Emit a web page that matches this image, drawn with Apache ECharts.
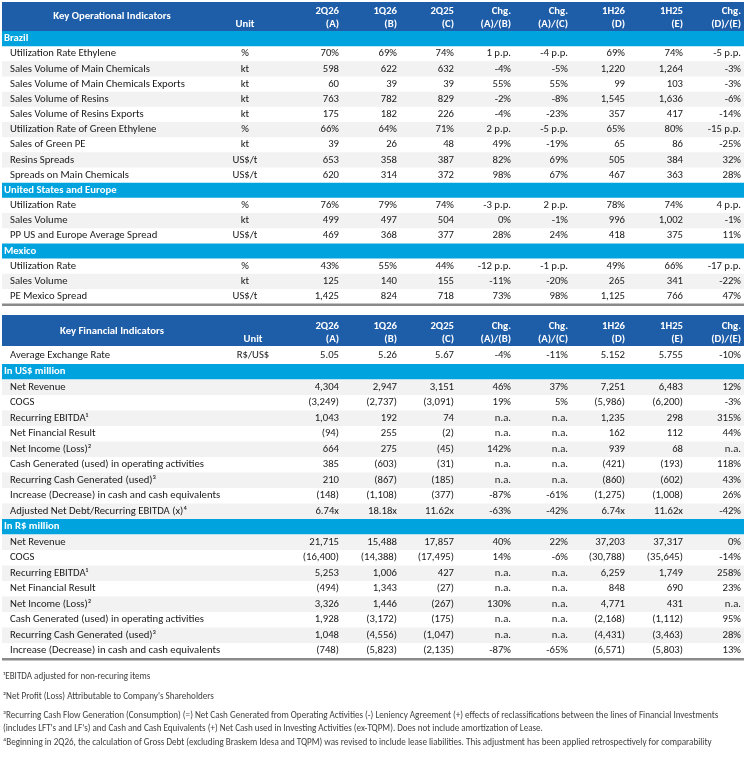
<!DOCTYPE html>
<html><head><meta charset="utf-8">
<script src="https://cdn.jsdelivr.net/npm/echarts@6/dist/echarts.min.js"></script>
<style>html,body{margin:0;padding:0;background:#fff}#c{width:751px;height:758px}</style>
</head><body><div id="c"></div>
<script>
// ---------------- DATA ----------------
const headTop = ['2Q26','1Q26','2Q25','Chg.','Chg.','1H26','1H25','Chg.'];
const headBottom = ['(A)','(B)','(C)','(A)/(B)','(A)/(C)','(D)','(E)','(D)/(E)'];

const opTitle = 'Key Operational Indicators';
const finTitle = 'Key Financial Indicators';
const unitHeader = 'Unit';

const brazilLabels = ['Utilization Rate Ethylene','Sales Volume of Main Chemicals','Sales Volume of Main Chemicals Exports','Sales Volume of Resins','Sales Volume of Resins Exports','Utilization Rate of Green Ethylene','Sales of Green PE','Resins Spreads','Spreads on Main Chemicals'];
const brazilUnits = ['%','kt','kt','kt','kt','%','kt','US$/t','US$/t'];
const brazilValues = [
  ['70%','69%','74%','1 p.p.','-4 p.p.','69%','74%','-5 p.p.'],
  ['598','622','632','-4%','-5%','1,220','1,264','-3%'],
  ['60','39','39','55%','55%','99','103','-3%'],
  ['763','782','829','-2%','-8%','1,545','1,636','-6%'],
  ['175','182','226','-4%','-23%','357','417','-14%'],
  ['66%','64%','71%','2 p.p.','-5 p.p.','65%','80%','-15 p.p.'],
  ['39','26','48','49%','-19%','65','86','-25%'],
  ['653','358','387','82%','69%','505','384','32%'],
  ['620','314','372','98%','67%','467','363','28%']
];

const usEuLabels = ['Utilization Rate','Sales Volume','PP US and Europe Average Spread'];
const usEuUnits = ['%','kt','US$/t'];
const usEuValues = [
  ['76%','79%','74%','-3 p.p.','2 p.p.','78%','74%','4 p.p.'],
  ['499','497','504','0%','-1%','996','1,002','-1%'],
  ['469','368','377','28%','24%','418','375','11%']
];

const mexicoLabels = ['Utilization Rate','Sales Volume','PE Mexico Spread'];
const mexicoUnits = ['%','kt','US$/t'];
const mexicoValues = [
  ['43%','55%','44%','-12 p.p.','-1 p.p.','49%','66%','-17 p.p.'],
  ['125','140','155','-11%','-20%','265','341','-22%'],
  ['1,425','824','718','73%','98%','1,125','766','47%']
];

const fxLabels = ['Average Exchange Rate'];
const fxUnits = ['R$/US$'];
const fxValues = [['5.05','5.26','5.67','-4%','-11%','5.152','5.755','-10%']];

const usdLabels = ['Net Revenue','COGS','Recurring EBITDA¹','Net Financial Result','Net Income (Loss)²','Cash Generated (used) in operating activities','Recurring Cash Generated (used)³','Increase (Decrease) in cash and cash equivalents','Adjusted Net Debt/Recurring EBITDA (x)⁴'];
const usdValues = [
  ['4,304','2,947','3,151','46%','37%','7,251','6,483','12%'],
  ['(3,249)','(2,737)','(3,091)','19%','5%','(5,986)','(6,200)','-3%'],
  ['1,043','192','74','n.a.','n.a.','1,235','298','315%'],
  ['(94)','255','(2)','n.a.','n.a.','162','112','44%'],
  ['664','275','(45)','142%','n.a.','939','68','n.a.'],
  ['385','(603)','(31)','n.a.','n.a.','(421)','(193)','118%'],
  ['210','(867)','(185)','n.a.','n.a.','(860)','(602)','43%'],
  ['(148)','(1,108)','(377)','-87%','-61%','(1,275)','(1,008)','26%'],
  ['6.74x','18.18x','11.62x','-63%','-42%','6.74x','11.62x','-42%']
];

const brlLabels = ['Net Revenue','COGS','Recurring EBITDA¹','Net Financial Result','Net Income (Loss)²','Cash Generated (used) in operating activities','Recurring Cash Generated (used)³','Increase (Decrease) in cash and cash equivalents'];
const brlValues = [
  ['21,715','15,488','17,857','40%','22%','37,203','37,317','0%'],
  ['(16,400)','(14,388)','(17,495)','14%','-6%','(30,788)','(35,645)','-14%'],
  ['5,253','1,006','427','n.a.','n.a.','6,259','1,749','258%'],
  ['(494)','1,343','(27)','n.a.','n.a.','848','690','23%'],
  ['3,326','1,446','(267)','130%','n.a.','4,771','431','n.a.'],
  ['1,928','(3,172)','(175)','n.a.','n.a.','(2,168)','(1,112)','95%'],
  ['1,048','(4,556)','(1,047)','n.a.','n.a.','(4,431)','(3,463)','28%'],
  ['(748)','(5,823)','(2,135)','-87%','-65%','(6,571)','(5,803)','13%']
];

const sectionNames = ['Brazil','United States and Europe','Mexico','In US$ million','In R$ million'];

const footnotes = [
  '¹EBITDA adjusted for non-recuring items',
  '²Net Profit (Loss) Attributable to Company\'s Shareholders',
  '³Recurring Cash Flow Generation (Consumption) (=) Net Cash Generated from Operating Activities (-) Leniency Agreement (+) effects of reclassifications between the lines of Financial Investments',
  '(includes LFT\'s and LF\'s) and Cash and Cash Equivalents (+) Net Cash used in Investing Activities (ex-TQPM). Does not include amortization of Lease.',
  '⁴Beginning in 2Q26, the calculation of Gross Debt (excluding Braskem Idesa and TQPM) was revised to include lease liabilities. This adjustment has been applied retrospectively for comparability'
];

// ---------------- STYLE / LAYOUT ----------------
const C = { dark:'#1E5DA8', light:'#00A3DE', gray:'#F2F2F2', text:'#1A1A1A', rule:'#8A8A8A', note:'#404040' };
const L = { left:2, right:744, labelX:10, sectionX:4, titleX:112,
  cols:[339,397,454,511,568,625,683,741], unitOp:245, unitFin:253 };

function hasFont(f){
  const c=document.createElement('canvas').getContext('2d');
  const s='abcdefghijklmnopqrstuvwxyzABCDEFGHIJ0123456789';
  c.font='20px monospace'; const a=c.measureText(s).width;
  c.font='20px "'+f+'", monospace'; const b=c.measureText(s).width;
  c.font='20px serif'; const a2=c.measureText(s).width;
  c.font='20px "'+f+'", serif'; const b2=c.measureText(s).width;
  return a!==b || a2!==b2;
}
const fontCands=['Carlito','Liberation Sans Narrow','DejaVu Sans Condensed','Lato','Liberation Sans'];
const FONT = fontCands.find(hasFont) || 'sans-serif';
function measure(t,size,bold){const c=document.createElement('canvas').getContext('2d');c.font=(bold?'bold ':'')+size+'px "'+FONT+'"';return c.measureText(t).width;}
const BASE = Math.min(12.5, Math.max(8.5, 11*175/measure('Sales Volume of Main Chemicals Exports',11)));
const NOTE = Math.min(10, 10*716/measure(footnotes[2],10));

const rects=[]; const texts=[];
function rect(x0,y0,x1,y1,color){rects.push({x0,y0,x1,y1,color});}
function txt(x,y,text,o){texts.push(Object.assign({x,y,text,align:'right',bold:false,color:C.text,size:BASE},o||{}));}

function header(y0,y1,title,unitX,l1,l2,tY){
  rect(L.left,y0,L.right,y1,C.dark);
  txt(L.titleX,tY,title,{align:'center',bold:true,color:'#fff'});
  txt(unitX,l2,unitHeader,{align:'center',bold:true,color:'#fff'});
  headTop.forEach((h,i)=>txt(L.cols[i],l1,h,{bold:true,color:'#fff'}));
  headBottom.forEach((h,i)=>txt(L.cols[i],l2,h,{bold:true,color:'#fff'}));
}
function section(y,h,name){
  rect(L.left,y,L.right,y+h,C.light);
  txt(L.sectionX,y+h/2,name,{align:'left',bold:true,color:'#fff'});
  return y+h;
}
function rows(y,h,labels,units,values,unitX,grayFirst){
  labels.forEach((lab,i)=>{
    const shaded = grayFirst ? i%2===0 : i%2===1;
    if(shaded) rect(L.left,y,L.right,y+h,C.gray);
    const cy=y+h/2;
    txt(L.labelX,cy,lab,{align:'left'});
    if(units && units[i]) txt(unitX,cy,units[i],{align:'center'});
    values[i].forEach((v,j)=>txt(L.cols[j],cy,v));
    y+=h;
  });
  return y;
}

// operational table
header(2,31,opTitle,L.unitOp,11,24,16);
let y=31; const rh=15.17;
y=section(y,rh,sectionNames[0]);
y=rows(y,rh,brazilLabels,brazilUnits,brazilValues,L.unitOp,false);
y=section(y,rh,sectionNames[1]);
y=rows(y,rh,usEuLabels,usEuUnits,usEuValues,L.unitOp,false);
y=section(y,rh,sectionNames[2]);
y=rows(y,rh,mexicoLabels,mexicoUnits,mexicoValues,L.unitOp,false);
rect(L.left,y-0.5,L.right,y+2,C.rule);

// financial table
header(315,346,finTitle,L.unitFin,326,339,331);
y=346;
y=rows(y,18,fxLabels,fxUnits,fxValues,L.unitFin,false);
const fh=15.5;
y=section(y,fh,sectionNames[3]);
y=rows(y,fh,usdLabels,null,usdValues,L.unitFin,true);
y=section(y,fh,sectionNames[4]);
y=rows(y,fh,brlLabels,null,brlValues,L.unitFin,true);
rect(L.left,y-0.5,L.right,y+2,C.rule);

// footnotes
const noteY=[677,697,716,729,743];
footnotes.forEach((n,i)=>txt(3,noteY[i],n,{align:'left',size:NOTE,color:C.note}));

// ---------------- CHART ----------------
const chart=echarts.init(document.getElementById('c'),null,{renderer:'canvas'});
chart.setOption({
  animation:false,
  backgroundColor:'#fff',
  grid:{left:0,right:0,top:0,bottom:0},
  xAxis:{type:'value',min:0,max:751,show:false},
  yAxis:{type:'value',min:0,max:758,inverse:true,show:false},
  series:[
    {type:'custom',silent:true,data:rects.map((r,i)=>[i]),
      renderItem:(p,api)=>{const r=rects[p.dataIndex];const a=api.coord([r.x0,r.y0]),b=api.coord([r.x1,r.y1]);
        return {type:'rect',shape:{x:a[0],y:a[1],width:b[0]-a[0],height:b[1]-a[1]},style:{fill:r.color}};}},
    {type:'custom',silent:true,data:texts.map((t,i)=>[i]),
      renderItem:(p,api)=>{const t=texts[p.dataIndex];const a=api.coord([t.x,t.y]);
        return {type:'text',x:a[0],y:a[1],style:{text:t.text,fill:t.color,align:t.align,verticalAlign:'middle',
          font:(t.bold?'bold ':'')+t.size+'px "'+FONT+'", sans-serif'}};}}
  ]
});
</script></body></html>
